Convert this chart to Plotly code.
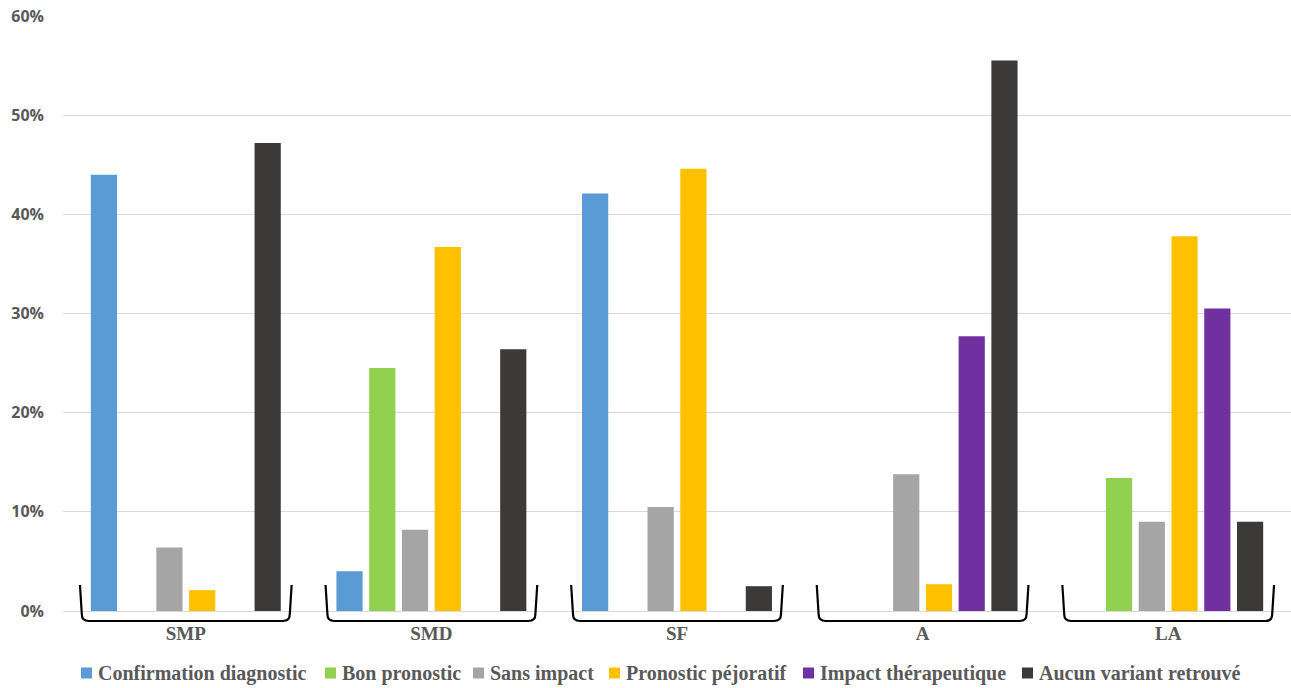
import plotly.graph_objects as go

categories = ["SMP", "SMD", "SF", "A", "LA"]
series_names = ["Confirmation diagnostic", "Bon pronostic", "Sans impact",
                "Pronostic péjoratif", "Impact thérapeutique", "Aucun variant retrouvé"]
confirmation = [0.440, 0.040, 0.421, 0.0, 0.0]
bon_pronostic = [0.0, 0.245, 0.0, 0.0, 0.134]
sans_impact = [0.064, 0.082, 0.105, 0.138, 0.090]
pejoratif = [0.021, 0.367, 0.446, 0.027, 0.378]
therapeutique = [0.0, 0.0, 0.0, 0.277, 0.305]
aucun = [0.472, 0.264, 0.025, 0.555, 0.090]
colors = ["#5B9BD5", "#92D050", "#A5A5A5", "#FFC000", "#7030A0", "#3B3A38"]
y_ticks = [0, 0.1, 0.2, 0.3, 0.4, 0.5, 0.6]

values = [confirmation, bon_pronostic, sans_impact, pejoratif, therapeutique, aucun]

W, H = 1291, 688
ML, MR, MT, MB = 63, 0, 16, 77
PW, PH = W - ML - MR, H - MT - MB

fig = go.Figure()
for name, vals, col in zip(series_names, values, colors):
    fig.add_trace(go.Bar(x=categories, y=vals, name=name, marker_color=col,
                         marker_line_width=0, showlegend=False))

# braces under each group (paper coords derived from category index)
n = len(categories)
half = 104 / PW
ytop = 26 / PH
ybot = -10 / PH
rx = 7 / PW
ry = 7 / PH
for i in range(n):
    c = (i + 0.5) / n
    x0, x1 = c - half, c + half
    path = (f"M {x0-0.0015},{ytop} L {x0},{ybot+ry} Q {x0},{ybot} {x0+rx},{ybot} "
            f"L {x1-rx},{ybot} Q {x1},{ybot} {x1},{ybot+ry} L {x1+0.0015},{ytop}")
    fig.add_shape(type="path", path=path, xref="paper", yref="paper",
                  line=dict(color="#000000", width=2.2))

# custom legend (square + text), pixel positions of each entry's square
legend_px = [81, 325, 473, 609, 803, 1022]
leg_y = (MT + PH - 673) / PH
sq = 11
for name, col, px in zip(series_names, colors, legend_px):
    x0 = (px - ML) / PW
    x1 = (px + sq - ML) / PW
    fig.add_shape(type="rect", xref="paper", yref="paper",
                  x0=x0, x1=x1, y0=leg_y - (sq / 2) / PH, y1=leg_y + (sq / 2) / PH,
                  fillcolor=col, line=dict(width=0))
    fig.add_annotation(x=(px + sq + 4 - ML) / PW, y=leg_y, xref="paper", yref="paper",
                       text=name, showarrow=False, xanchor="left", yanchor="middle",
                       font=dict(family="Liberation Serif", size=20, color="#595959",
                                 weight="bold"))

fig.update_layout(
    width=W, height=H,
    margin=dict(l=ML, r=MR, t=MT, b=MB, autoexpand=False),
    paper_bgcolor="white", plot_bgcolor="white",
    barmode="group", bargap=0.2, bargroupgap=0.2,
    showlegend=False,
    font=dict(family="Liberation Serif", color="#595959"),
)
fig.update_xaxes(range=[-0.5, n - 0.5], showgrid=False, showline=False, ticks="",
                 automargin=False,
                 tickfont=dict(family="Liberation Serif", size=19, color="#595959", weight="bold"),
                 ticklabelstandoff=9)
fig.update_yaxes(range=[0, 0.6], tickvals=y_ticks, tickformat=".0%",
                 showgrid=True, gridcolor="#D9D9D9", gridwidth=1,
                 zeroline=True, zerolinecolor="#D9D9D9", zerolinewidth=1,
                 showline=False, ticks="", automargin=False,
                 tickfont=dict(family="Open Sans", size=16, color="#595959", weight="bold"),
                 ticklabelstandoff=18)

fig.write_html("out.html", config={"displayModeBar": False},
               post_script="document.body.style.margin='0';document.body.style.overflow='hidden';")
